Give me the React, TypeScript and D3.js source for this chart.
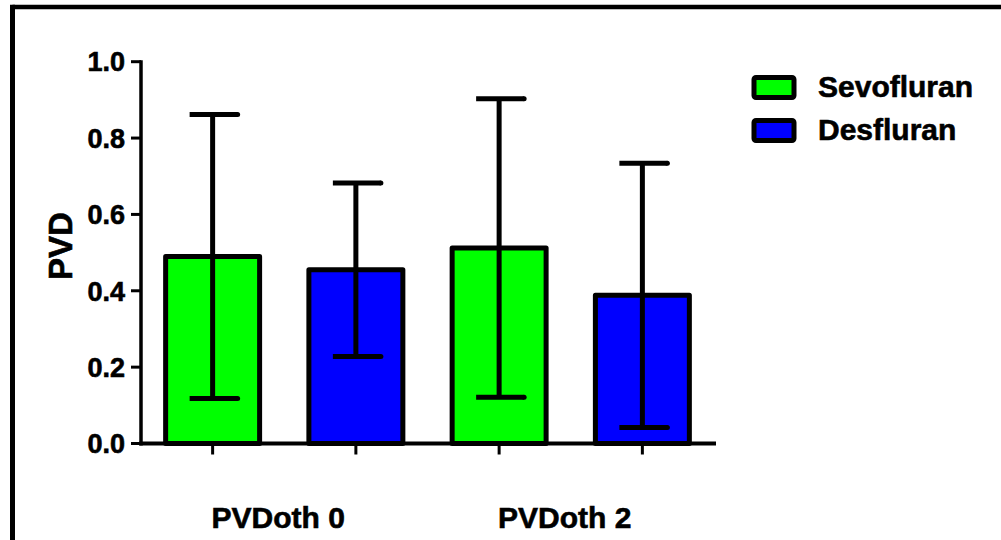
import React from "react";
import * as d3 from "d3";

// Data: mean ± SD of PVD per group and anaesthetic
const groups = ["PVDoth 0", "PVDoth 2"];
const seriesNames = ["Sevofluran", "Desfluran"];
const seriesColors = ["#00FF00", "#0000FF"];
const sevoMeans = [0.49, 0.512];
const sevoSD = [0.372, 0.391];
const desMeans = [0.455, 0.388];
const desSD = [0.227, 0.346];
const yTicks = [0, 0.2, 0.4, 0.6, 0.8, 1.0];
const yLabel = "PVD";

const W = 1001;
const H = 540;
const FONT = "'Liberation Sans', Arial, sans-serif";

// heavy bold text, slightly thickened with a thin outline
const textStyle = {
  fontWeight: "bold" as const,
  fill: "#000",
  stroke: "#000",
  strokeWidth: 0.6,
};

export default function App() {
  const means = [sevoMeans, desMeans];
  const sds = [sevoSD, desSD];

  const y = d3.scaleLinear().domain([0, 1]).range([443.5, 61.7]);
  const x0 = d3.scaleBand<string>().domain(groups).range([141, 714]).padding(0);
  const x1 = d3
    .scaleBand<string>()
    .domain(seriesNames)
    .range([0, x0.bandwidth()])
    .paddingInner(0.344)
    .paddingOuter(0.172);

  const bars: { cx: number; left: number; mean: number; sd: number; color: string; key: string }[] = [];
  groups.forEach((g, gi) => {
    seriesNames.forEach((s, si) => {
      const left = (x0(g) as number) + (x1(s) as number);
      bars.push({
        key: g + s,
        left,
        cx: left + x1.bandwidth() / 2,
        mean: means[si][gi],
        sd: sds[si][gi],
        color: seriesColors[si],
      });
    });
  });

  const fmt = d3.format(".1f");
  const axisX0 = 141;
  const axisX1 = 714;

  return (
    <svg
      width={W}
      height={H}
      style={{ position: "absolute", left: 0, top: 0, background: "#fff" }}
      fontFamily={FONT}
    >
      {/* outer frame */}
      <line x1={12.5} y1={7} x2={W} y2={7} stroke="#000" strokeWidth={4.5} />
      <line x1={12.5} y1={4.75} x2={12.5} y2={H} stroke="#000" strokeWidth={5} />

      {/* bars */}
      {bars.map((b) => (
        <rect
          key={b.key}
          x={b.left}
          y={y(b.mean)}
          width={x1.bandwidth()}
          height={y(0) - y(b.mean)}
          fill={b.color}
          stroke="#000"
          strokeWidth={5}
          strokeLinejoin="round"
        />
      ))}

      {/* error bars */}
      {bars.map((b) => {
        const hi = y(b.mean + b.sd);
        const lo = y(b.mean - b.sd);
        return (
          <g key={"e" + b.key} stroke="#000">
            <line x1={b.cx} x2={b.cx} y1={hi} y2={lo} strokeWidth={5} />
            <line x1={b.cx - 23} x2={b.cx + 25} y1={hi} y2={hi} strokeWidth={5} />
            <circle cx={b.cx + 25} cy={hi} r={2.5} fill="#000" stroke="none" />
            <line x1={b.cx - 23} x2={b.cx + 25} y1={lo} y2={lo} strokeWidth={5} />
            <circle cx={b.cx + 25} cy={lo} r={2.5} fill="#000" stroke="none" />
          </g>
        );
      })}

      {/* y axis */}
      <line x1={axisX0} x2={axisX0} y1={y(0) + 2} y2={y(1) - 1.5} stroke="#000" strokeWidth={3.5} />
      {yTicks.map((t) => (
        <g key={t}>
          <line x1={131} x2={axisX0} y1={y(t)} y2={y(t)} stroke="#000" strokeWidth={3} />
          <text x={125} y={y(t)} dy="0.36em" textAnchor="end" fontSize={27} {...textStyle}>
            {fmt(t)}
          </text>
        </g>
      ))}
      <text
        transform={`translate(72,246) rotate(-90)`}
        textAnchor="middle"
        fontSize={33}
        {...textStyle}
      >
        {yLabel}
      </text>

      {/* x axis */}
      <line x1={axisX0 - 1.75} x2={axisX1 + 2} y1={y(0)} y2={y(0)} stroke="#000" strokeWidth={4} />
      {bars.map((b) => (
        <line key={"t" + b.key} x1={b.cx} x2={b.cx} y1={y(0)} y2={y(0) + 11} stroke="#000" strokeWidth={3} />
      ))}
      {groups.map((g) => (
        <text
          key={g}
          x={(x0(g) as number) + x0.bandwidth() / 2 - 6}
          y={528}
          textAnchor="middle"
          fontSize={30}
          {...textStyle}
        >
          {g}
        </text>
      ))}

      {/* legend */}
      {seriesNames.map((s, i) => (
        <g key={s} transform={`translate(754,${77.5 + i * 43})`}>
          <rect width={40} height={20} rx={2} fill={seriesColors[i]} stroke="#000" strokeWidth={5} />
          <text x={64} y={19.5} fontSize={30} {...textStyle}>
            {s}
          </text>
        </g>
      ))}
    </svg>
  );
}
